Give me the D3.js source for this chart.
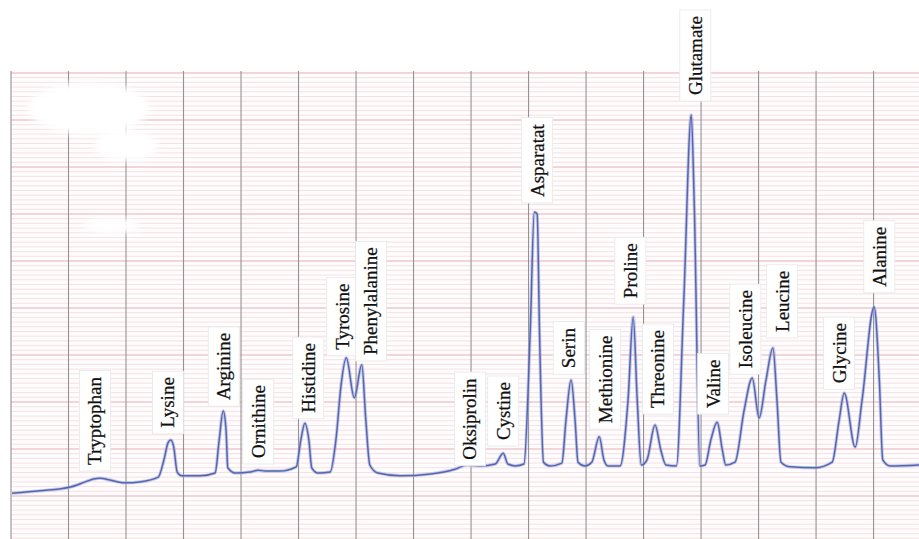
<!DOCTYPE html>
<html>
<head>
<meta charset="utf-8">
<script src="https://cdn.jsdelivr.net/npm/d3@7"></script>
<style>
  body { margin: 0; background: #fff; }
</style>
</head>
<body>
<svg id="chart" width="919" height="539"></svg>
<script>
// chart time in grid divisions, signal in minor chart divisions
const traceTime = [
  0.02, 0.50, 1.03, 1.29, 1.43, 1.55, 1.72, 1.98, 2.24, 2.56, 2.66, 2.73, 2.78, 2.83, 2.89, 2.97,
  3.29, 3.55, 3.62, 3.69, 3.74, 3.77, 3.90, 4.16, 4.30, 4.42, 4.68, 4.96, 5.04, 5.11, 5.18, 5.23,
  5.34, 5.55, 5.65, 5.74, 5.83, 5.97, 6.10, 6.17, 6.24, 6.38, 6.77, 7.30, 7.72, 7.93, 8.16, 8.42,
  8.56, 8.64, 8.77, 8.92, 9.03, 9.10, 9.15, 9.19, 9.26, 9.37, 9.58, 9.65, 9.74, 9.81, 9.86, 9.98,
  10.10, 10.23, 10.31, 10.38, 10.59, 10.73, 10.82, 10.89, 10.96, 11.06, 11.20, 11.30, 11.39, 11.57,
  11.70, 11.83, 11.88, 11.98, 12.07, 12.17, 12.28, 12.37, 12.43, 12.59, 12.75, 12.89, 13.01, 13.13,
  13.25, 13.32, 13.39, 13.55, 13.98, 14.28, 14.40, 14.49, 14.68, 14.80, 15.01, 15.10, 15.16, 15.29, 15.79
];
const traceSignal = [
  10.6, 11.1, 11.9, 13.0, 13.6, 13.8, 13.4, 12.8, 13.0, 14.0, 17.7, 21.3, 21.9, 20.4, 15.1, 14.3,
  14.3, 14.9, 21.9, 28.1, 24.0, 16.0, 14.9, 15.1, 15.5, 15.3, 15.3, 16.2, 21.9, 25.5, 21.9, 16.0,
  14.9, 15.1, 21.9, 33.6, 39.4, 30.9, 37.9, 26.2, 16.6, 14.9, 14.3, 14.7, 15.7, 16.6, 16.4, 16.8,
  19.1, 16.8, 16.4, 16.8, 45.3, 70.4, 70.0, 45.3, 17.2, 16.4, 17.0, 26.0, 34.7, 26.0, 17.2, 16.4,
  17.2, 22.6, 17.7, 16.4, 16.4, 30.4, 48.1, 30.4, 16.6, 17.7, 25.1, 19.8, 16.6, 16.4,
  51.7, 91.1, 73.0, 16.4, 16.6, 21.9, 25.7, 19.8, 16.6, 17.2, 28.3, 35.1, 26.6, 34.7,
  41.5, 30.4, 17.2, 16.2, 16.0, 17.2, 26.0, 31.9, 20.4, 30.4, 50.2, 34.7, 17.7, 16.4, 16.6
];

const peakNames = [
  "Tryptophan", "Lysine", "Arginine", "Ornithine", "Histidine", "Tyrosine", "Phenylalanine",
  "Oksiprolin", "Cystine", "Asparatat", "Serin", "Methionine", "Proline", "Threonine",
  "Glutamate", "Valine", "Isoleucine", "Leucine", "Glycine", "Alanine"
];
// where each label sits (time, signal at the label's lower end)
const labelTime = [1.46, 2.73, 3.70, 4.30, 5.17, 5.76, 6.26, 7.98, 8.56, 9.15, 9.70, 10.33, 10.77, 11.25, 11.90, 12.21, 12.77, 13.41, 14.40, 15.10];
const labelSignal = [16.6, 24.5, 30.4, 18.1, 27.7, 41.1, 40.0, 17.7, 21.9, 73.6, 37.2, 25.5, 52.1, 28.7, 95.3, 28.7, 37.2, 44.9, 34.0, 54.5];

// correction-fluid patches on the paper (time, signal, radius in time, radius in signal)
const patchTime = [1.35, 2.0, 1.75];
const patchSignal = [92.5, 84.5, 67.5];
const patchRx = [1.05, 0.55, 0.5];
const patchRy = [5.5, 3.2, 1.6];

const width = 919, height = 539;
const svg = d3.select("#chart");

const x = d3.scaleLinear().domain([0, 15.79]).range([11, 919]);
const y = d3.scaleLinear().domain([0, 100]).range([543, 73]);

const defs = svg.append("defs");
defs.append("filter").attr("id", "blur")
    .append("feGaussianBlur").attr("stdDeviation", 3);
defs.append("filter").attr("id", "soft")
    .append("feGaussianBlur").attr("stdDeviation", 0.6);

// paper
svg.append("rect")
    .attr("x", x(0) - 1).attr("y", y(100.6))
    .attr("width", width - x(0) + 1).attr("height", height - y(100.6))
    .attr("fill", "#fefcfc");

// horizontal rulings: minor each unit, major each 10
const grid = svg.append("g");
grid.selectAll("line.minor")
    .data(d3.range(0, 101).filter(d => d % 10 !== 0))
    .join("line")
    .attr("class", "minor")
    .attr("x1", x(0)).attr("x2", width)
    .attr("y1", d => y(d)).attr("y2", d => y(d))
    .attr("stroke", "#f4dfe2")
    .attr("stroke-width", 0.9);
grid.selectAll("line.major")
    .data(d3.range(0, 101, 10))
    .join("line")
    .attr("class", "major")
    .attr("x1", x(0)).attr("x2", width)
    .attr("y1", d => y(d)).attr("y2", d => y(d))
    .attr("stroke", "#e8adb6")
    .attr("stroke-width", 1.1);
// vertical time lines
grid.selectAll("line.vert")
    .data(d3.range(0, 16))
    .join("line")
    .attr("class", "vert")
    .attr("x1", d => x(d)).attr("x2", d => x(d))
    .attr("y1", y(100.4)).attr("y2", height)
    .attr("stroke", "#959295")
    .attr("stroke-width", 1.1);

// white patches
svg.append("g")
    .attr("filter", "url(#blur)")
    .selectAll("ellipse")
    .data(patchTime)
    .join("ellipse")
    .attr("cx", d => x(d))
    .attr("cy", (d, i) => y(patchSignal[i]))
    .attr("rx", (d, i) => x(patchRx[i]) - x(0))
    .attr("ry", (d, i) => y(0) - y(patchRy[i]))
    .attr("fill", "#ffffff");

// recorder trace
const points = traceTime.map((t, i) => [t, traceSignal[i]]);
const line = d3.line()
    .x(d => x(d[0]))
    .y(d => y(d[1]))
    .curve(d3.curveMonotoneX);
svg.append("path")
    .datum(points)
    .attr("d", line)
    .attr("fill", "none")
    .attr("stroke", "#9aa5d6")
    .attr("stroke-width", 3.4)
    .attr("stroke-opacity", 0.55)
    .attr("filter", "url(#soft)");
svg.append("path")
    .datum(points)
    .attr("d", line)
    .attr("fill", "none")
    .attr("stroke", "#5466b2")
    .attr("stroke-width", 1.5)
    .attr("stroke-linejoin", "round");

// labels on white slips
const labels = svg.append("g");
peakNames.forEach((name, i) => {
  const g = labels.append("g")
      .attr("transform", `translate(${x(labelTime[i])}, ${y(labelSignal[i])}) rotate(-90)`);
  const slip = g.append("rect");
  const txt = g.append("text")
      .attr("x", 0).attr("y", 0)
      .attr("dominant-baseline", "central")
      .attr("font-family", "Liberation Serif, Times New Roman, serif")
      .attr("font-size", 19)
      .attr("fill", "#111")
      .attr("stroke", "#111")
      .attr("stroke-width", 0.25)
      .text(name);
  const bb = txt.node().getBBox();
  slip.attr("x", bb.x - 6).attr("y", bb.y - 5)
      .attr("width", bb.width + 12).attr("height", bb.height + 10)
      .attr("fill", "#ffffff")
      .attr("stroke", "#e8e8e8")
      .attr("stroke-width", 0.8);
});
</script>
</body>
</html>
